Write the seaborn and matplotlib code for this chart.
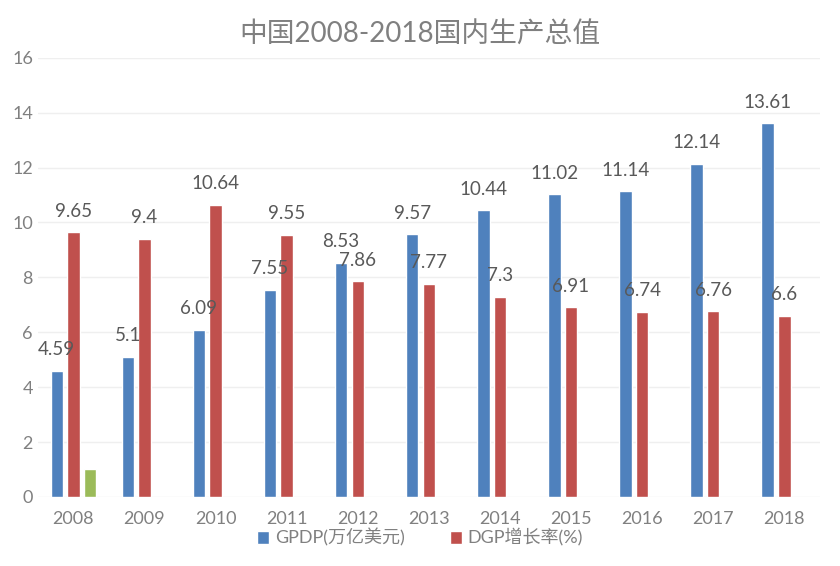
import numpy as np
import pandas as pd
import matplotlib
matplotlib.use('Agg')
import matplotlib.pyplot as plt
import seaborn as sns

years = ['2008', '2009', '2010', '2011', '2012', '2013', '2014', '2015', '2016', '2017', '2018']
gdp = [4.59, 5.1, 6.09, 7.55, 8.53, 9.57, 10.44, 11.02, 11.14, 12.14, 13.61]
growth = [9.65, 9.4, 10.64, 9.55, 7.86, 7.77, 7.3, 6.91, 6.74, 6.76, 6.6]
extra = [1, np.nan, np.nan, np.nan, np.nan, np.nan, np.nan, np.nan, np.nan, np.nan, np.nan]

series = ['GPDP(万亿美元)', 'DGP增长率(%)', '系列3']
colors = ['#4F81BD', '#C0504D', '#9BBB59']

df = pd.DataFrame({'year': years * 3,
                   'value': gdp + growth + extra,
                   'series': [series[0]] * 11 + [series[1]] * 11 + [series[2]] * 11})

sns.set_style('white')
plt.rcParams['font.family'] = ['Lato', 'Noto Sans CJK SC', 'DejaVu Sans']
dark = '#595959'
light = '#808080'

fig = plt.figure(figsize=(8.4, 5.66), dpi=100)
ax = fig.add_axes([0.045, 0.122, 0.931, 0.776])

sns.barplot(data=df, x='year', y='value', hue='series', hue_order=series,
            palette=colors, width=0.7, gap=0.25, saturation=1, ax=ax)

for cont, vals in zip(ax.containers[:2], [gdp, growth]):
    ax.bar_label(cont, labels=[f'{v:g}' for v in vals], padding=9,
                 fontsize=13.5, color=dark)

ax.set_ylim(0, 16)
ax.set_yticks(range(0, 17, 2))
ax.yaxis.grid(True, color='#EFEFEF', linewidth=1)
ax.set_axisbelow(True)
for s in ax.spines.values():
    s.set_visible(False)
ax.tick_params(axis='both', colors=light, labelsize=13, length=0)
ax.tick_params(axis='x', pad=10)
ax.set_xlabel('')
ax.set_ylabel('')

handles, labels = ax.get_legend_handles_labels()
leg = ax.legend(handles[:2], labels[:2], loc='center', bbox_to_anchor=(0.5, 0.05),
                bbox_transform=fig.transFigure, ncol=2, frameon=False, fontsize=13,
                labelcolor=light, handlelength=0.7, handleheight=0.7, handletextpad=0.3,
                columnspacing=2.5)

fig.text(0.5, 0.938, '中国2008-2018国内生产总值', ha='center', va='center',
         fontsize=20, color=light)

fig.savefig('out.png', dpi=100)
